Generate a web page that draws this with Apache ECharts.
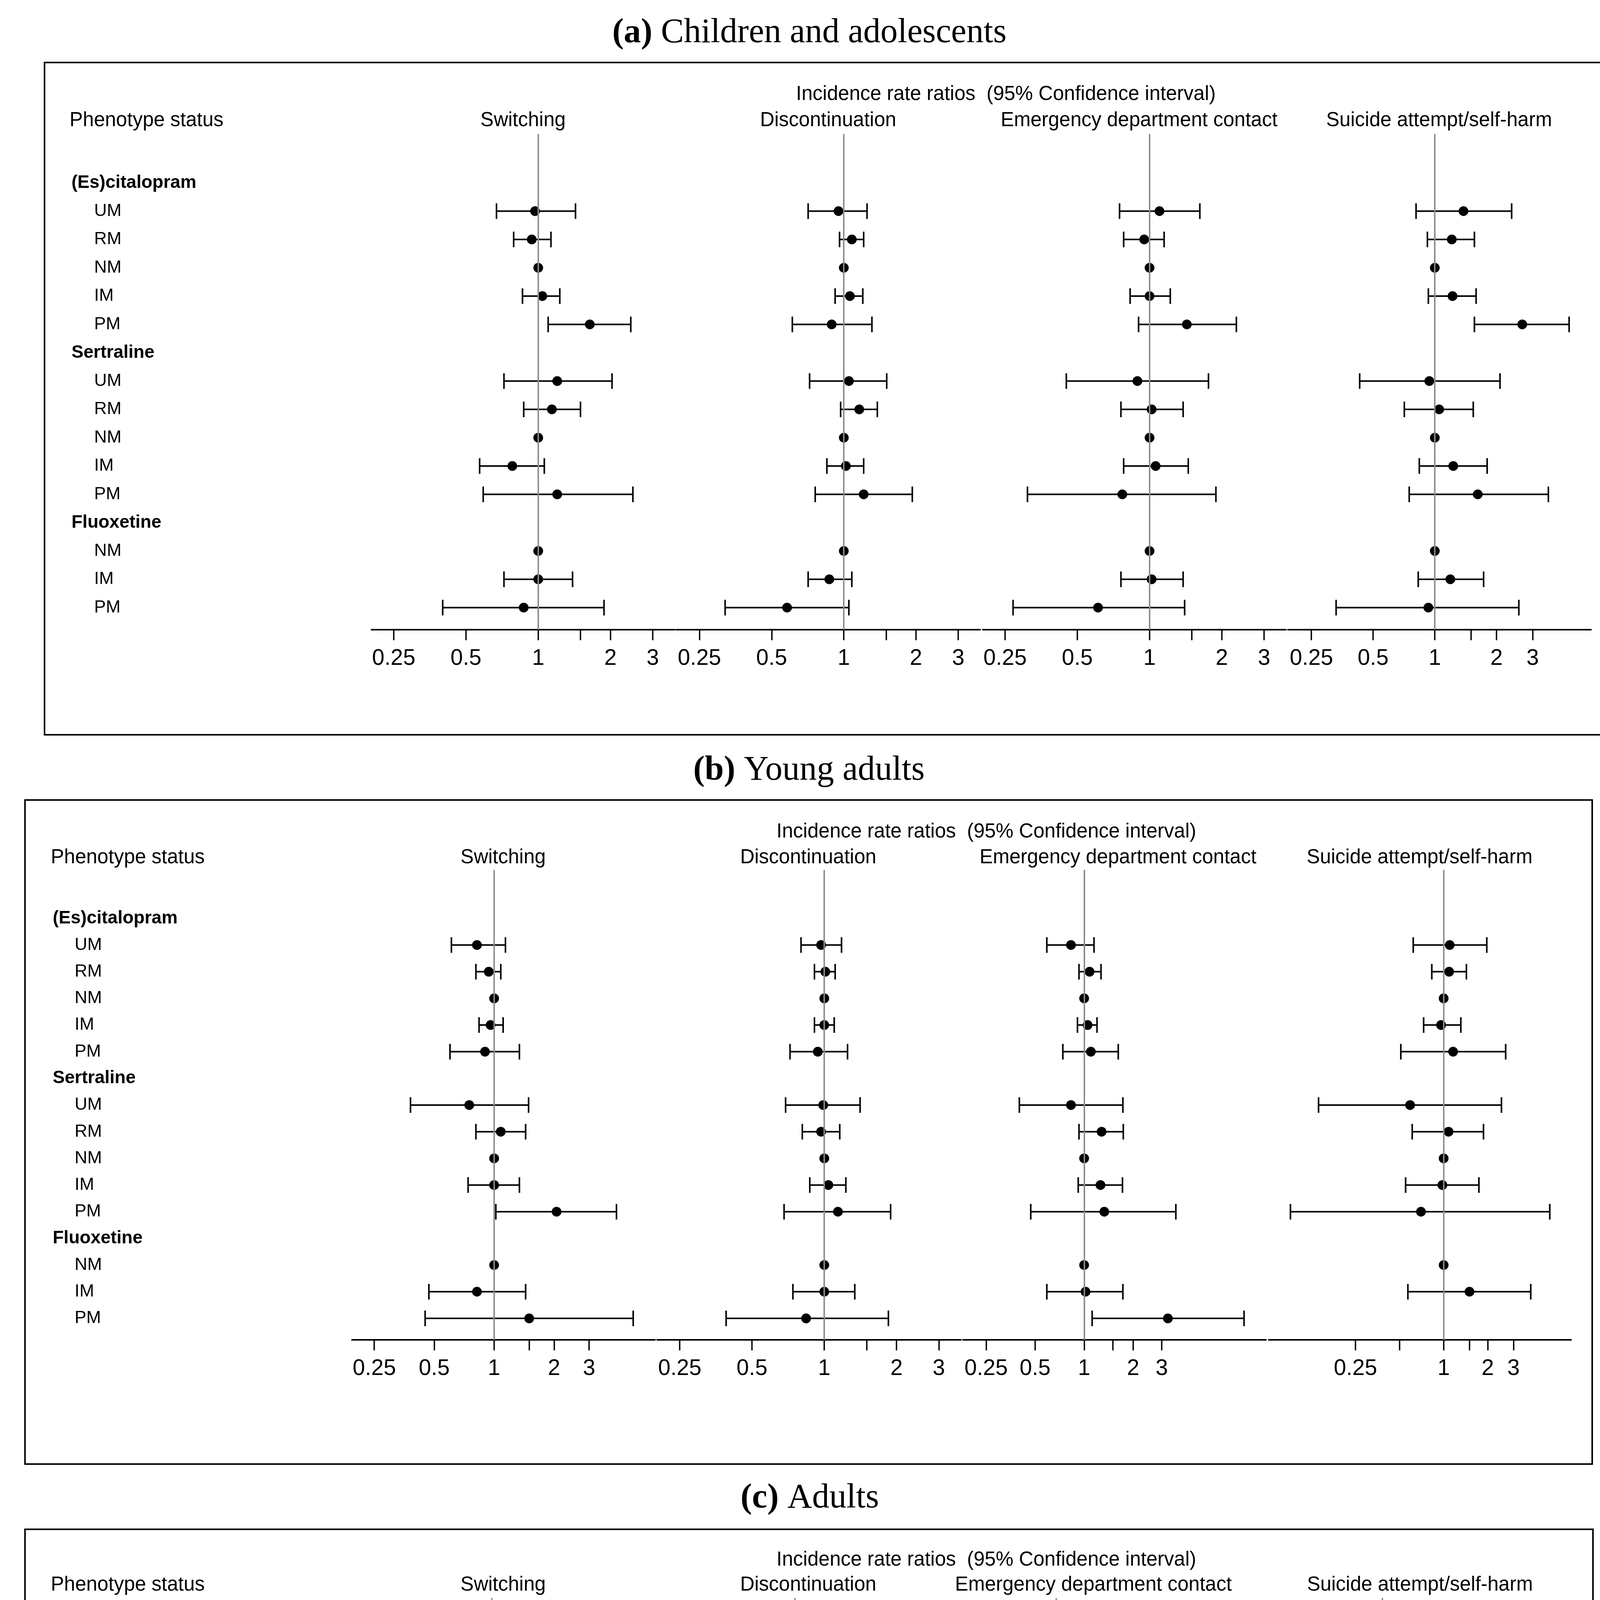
<!DOCTYPE html>
<html><head><meta charset="utf-8">
<script src="https://cdn.jsdelivr.net/npm/echarts@6/dist/echarts.min.js"></script>
<style>html,body{margin:0;padding:0;background:#fff}#chart{width:4205px;height:5676px}</style>
</head><body><div id="chart"></div>
<script>
// ---------- DATA ----------
const rowLabels = ['(Es)citalopram','UM','RM','NM','IM','PM','Sertraline','UM','RM','NM','IM','PM','Fluoxetine','NM','IM','PM'];
const groupRows = [0, 6, 12];
const dataRows = [1, 2, 3, 4, 5, 7, 8, 9, 10, 11, 13, 14, 15];
const outcomes = ['Switching', 'Discontinuation', 'Emergency department contact', 'Suicide attempt/self-harm'];
const panelLetters = ['(a)', '(b)', '(c)'];
const panelNames = ['Children and adolescents', 'Young adults', 'Adults'];
const axisTitle = 'Incidence rate ratios  (95% Confidence interval)';
const rowHeader = 'Phenotype status';

// [IRR, lower 95% CI, upper 95% CI] per phenotype row (null = not shown)
const childSwitching = [[0.97,0.67,1.43],[0.94,0.79,1.13],[1,null,null],[1.04,0.86,1.23],[1.64,1.10,2.43],
  [1.20,0.72,2.03],[1.14,0.87,1.50],[1,null,null],[0.78,0.57,1.06],[1.20,0.59,2.48],
  [1,null,null],[1.00,0.72,1.39],[0.87,0.40,1.88]];
const childDiscontinuation = [[0.95,0.71,1.25],[1.08,0.96,1.21],[1,null,null],[1.06,0.92,1.20],[0.89,0.61,1.31],
  [1.05,0.72,1.51],[1.16,0.97,1.38],[1,null,null],[1.02,0.85,1.21],[1.21,0.76,1.93],
  [1,null,null],[0.87,0.71,1.08],[0.58,0.32,1.05]];
const childEmergency = [[1.10,0.75,1.62],[0.95,0.78,1.15],[1,null,null],[1.00,0.83,1.22],[1.43,0.90,2.30],
  [0.89,0.45,1.76],[1.02,0.76,1.38],[1,null,null],[1.06,0.78,1.45],[0.77,0.31,1.89],
  [1,null,null],[1.02,0.76,1.38],[0.61,0.27,1.40]];
const childSuicide = [[1.38,0.81,2.37],[1.21,0.92,1.56],[1,null,null],[1.22,0.93,1.59],[2.67,1.56,4.52],
  [0.94,0.43,2.08],[1.05,0.71,1.54],[1,null,null],[1.23,0.84,1.80],[1.62,0.75,3.58],
  [1,null,null],[1.19,0.83,1.73],[0.93,0.33,2.57]];

const youngSwitching = [[0.82,0.61,1.14],[0.94,0.81,1.08],[1,null,null],[0.96,0.84,1.11],[0.90,0.60,1.34],
  [0.75,0.38,1.49],[1.08,0.81,1.44],[1,null,null],[1.00,0.74,1.34],[2.06,1.02,4.12],
  [1,null,null],[0.82,0.47,1.44],[1.50,0.45,5.00]];
const youngDiscontinuation = [[0.97,0.80,1.18],[1.01,0.91,1.11],[1,null,null],[1.00,0.91,1.10],[0.94,0.72,1.25],
  [0.99,0.69,1.41],[0.97,0.81,1.16],[1,null,null],[1.04,0.87,1.23],[1.14,0.68,1.89],
  [1,null,null],[1.00,0.74,1.34],[0.84,0.39,1.85]];
const youngEmergency = [[0.83,0.59,1.15],[1.08,0.93,1.27],[1,null,null],[1.05,0.91,1.20],[1.10,0.74,1.62],
  [0.83,0.40,1.73],[1.28,0.93,1.74],[1,null,null],[1.26,0.92,1.72],[1.33,0.47,3.66],
  [1,null,null],[1.02,0.59,1.73],[3.27,1.12,9.60]];
const youngSuicide = [[1.10,0.62,1.97],[1.09,0.83,1.43],[1,null,null],[0.96,0.73,1.31],[1.16,0.51,2.65],
  [0.59,0.14,2.48],[1.08,0.61,1.87],[1,null,null],[0.98,0.55,1.74],[0.70,0.09,5.30],
  [1,null,null],[1.50,0.57,3.93],null];

const adultSwitching = [[1.68,0.95,2.97],[1.24,0.92,1.68],[1,null,null],[1.00,0.71,1.36],[1.07,0.48,2.29],
  [0.60,0.18,1.99],[1.41,0.87,2.37],[1,null,null],[1.17,0.70,1.94],[0.55,0.07,4.10],
  [1,null,null],[0.78,0.12,5.12],[2.04,0.17,24.9]];
const adultDiscontinuation = [[1.28,0.84,1.96],[1.08,0.88,1.30],[1,null,null],[0.93,0.77,1.15],[0.97,0.58,1.61],
  [0.89,0.49,1.59],[1.30,0.97,1.77],[1,null,null],[0.92,0.70,1.27],[0.45,0.11,1.87],
  [1,null,null],[0.72,0.25,2.12],[2.57,0.41,16.1]];
const adultEmergency = [[1.39,0.70,2.87],[1.10,0.78,1.53],[1,null,null],[1.05,0.73,1.46],[1.15,0.46,2.78],
  [0.62,0.22,1.88],[0.72,0.37,1.39],[1,null,null],[0.84,0.46,1.60],[1.21,0.16,9.20],
  [1,null,null],[1.00,0.12,7.80],[10.3,0.36,285]];
const adultSuicide = [[3.25,0.89,11.8],[1.16,0.49,2.71],[1,null,null],[0.68,0.24,1.98],[2.89,0.58,14.3],
  null,null,[1,null,null],null,null,
  [1,null,null],null,null];

// axis ticks / labels / ranges (log scale)
const tickValues = [0.25, 0.5, 1, 1.5, 2, 3];
const childTickLabels = [[0.25,0.5,1,2,3],[0.25,0.5,1,2,3],[0.25,0.5,1,2,3],[0.25,0.5,1,2,3]];
const youngTickLabels = [[0.25,0.5,1,2,3],[0.25,0.5,1,2,3],[0.25,0.5,1,2,3],[0.25,1,2,3]];
const adultTickLabels = [[0.25,1,3],[0.25,1.5,3],[0.25,1,3],[0.25,1,2,3]];
const childRanges = [[0.202,3.70],[0.200,3.70],[0.202,3.70],[0.192,5.78]];
const youngRanges = [[0.193,6.44],[0.201,3.71],[0.180,13.1],[0.064,7.41]];
const adultRanges = [[0.042,40.5],[0.071,24.3],[0.061,549],[0.166,19.9]];

// ---------- LAYOUT ----------
const panels = [
  {data:[childSwitching,childDiscontinuation,childEmergency,childSuicide], labels:childTickLabels, ranges:childRanges,
   box:[114,160,4127,1881], titleX:2072, titleY:85, incidX:2575, incidY:242, headY:309, psX:178,
   headX:[1339,2120,2916,3684], groupX:183, itemX:241, top:343, axisY:1612, row0:468, rowStep:72.5,
   gridX:[[951,1727],[1731,2509],[2516,3292],[3297,4073]]},
  {data:[youngSwitching,youngDiscontinuation,youngEmergency,youngSuicide], labels:youngTickLabels, ranges:youngRanges,
   box:[64,2048,4076,3748], titleX:2071, titleY:1973, incidX:2525, incidY:2130, headY:2196, psX:130,
   headX:[1288,2069,2862,3634], groupX:135, itemX:191, top:2227, axisY:3430, row0:2351, rowStep:68.27,
   gridX:[[901,1677],[1682,2460],[2465,3241],[3248,4022]]},
  {data:[adultSwitching,adultDiscontinuation,adultEmergency,adultSuicide], labels:adultTickLabels, ranges:adultRanges,
   box:[64,3915,4078,5582], titleX:2073, titleY:3836, incidX:2525, incidY:3994, headY:4058, psX:130,
   headX:[1288,2069,2799,3635], groupX:135, itemX:191, top:4091, axisY:5321, row0:4214, rowStep:70.2,
   gridX:[[901,1677],[1682,2460],[2465,3241],[3248,4022]]}
];

const SANS = '"Liberation Sans", Arial, sans-serif';
const SERIF = '"Liberation Serif", "Times New Roman", serif';

function renderErrorBar(params, api) {
  const lo = api.coord([api.value(0), api.value(2)]);
  const hi = api.coord([api.value(1), api.value(2)]);
  const h = 20;
  const style = {stroke: '#000', lineWidth: 4};
  return {type: 'group', children: [
    {type: 'line', shape: {x1: lo[0], y1: lo[1], x2: hi[0], y2: hi[1]}, style: style},
    {type: 'line', shape: {x1: lo[0], y1: lo[1] - h, x2: lo[0], y2: lo[1] + h}, style: style},
    {type: 'line', shape: {x1: hi[0], y1: hi[1] - h, x2: hi[0], y2: hi[1] + h}, style: style}
  ]};
}

const grids = [], xAxes = [], yAxes = [], series = [], graphics = [];

panels.forEach(function (P, pi) {
  const m0 = -(P.row0 - P.top) / P.rowStep;
  const m1 = m0 + (P.axisY - P.top) / P.rowStep;
  graphics.push({type: 'rect', shape: {x: P.box[0], y: P.box[1], width: P.box[2] - P.box[0], height: P.box[3] - P.box[1]},
    style: {fill: 'none', stroke: '#000', lineWidth: 4}, silent: true});
  graphics.push({type: 'text', x: P.titleX, y: P.titleY, silent: true,
    style: {text: '{b|' + panelLetters[pi] + '}{n| ' + panelNames[pi] + '}', textAlign: 'center', textVerticalAlign: 'middle',
      rich: {b: {fontFamily: SERIF, fontSize: 88, fontWeight: 'bold', fill: '#000'}, n: {fontFamily: SERIF, fontSize: 88, fill: '#000'}}}});
  graphics.push({type: 'text', x: P.incidX, y: P.incidY, silent: true,
    style: {text: axisTitle, font: '51px ' + SANS, fill: '#000', textAlign: 'center', textVerticalAlign: 'middle'}});
  graphics.push({type: 'text', x: P.psX, y: P.headY, silent: true,
    style: {text: rowHeader, font: '51px ' + SANS, fill: '#000', textAlign: 'left', textVerticalAlign: 'middle'}});
  outcomes.forEach(function (name, oi) {
    graphics.push({type: 'text', x: P.headX[oi], y: P.headY, silent: true,
      style: {text: name, font: '51px ' + SANS, fill: '#000', textAlign: 'center', textVerticalAlign: 'middle'}});
  });

  P.data.forEach(function (rows, oi) {
    const gi = grids.length;
    const gx = P.gridX[oi];
    grids.push({left: gx[0], top: P.top, width: gx[1] - gx[0], height: P.axisY - P.top});
    xAxes.push({type: 'log', logBase: 2, gridIndex: gi, min: P.ranges[oi][0], max: P.ranges[oi][1],
      axisLine: {show: true, onZero: false, lineStyle: {color: '#000', width: 4}},
      axisTick: {show: true, customValues: tickValues, length: 27, lineStyle: {color: '#000', width: 3.5}},
      axisLabel: {show: true, customValues: P.labels[oi], formatter: function (v) { return String(v); },
        fontSize: 57, fontFamily: SANS, color: '#000', margin: 46},
      splitLine: {show: false}, minorTick: {show: false}});
    const yi = yAxes.length;
    yAxes.push({type: 'value', gridIndex: gi, position: 'left', inverse: true, min: m0, max: m1,
      axisLine: {show: false, onZero: false}, axisTick: {show: false}, splitLine: {show: false},
      axisLabel: oi === 0 ? {show: true, customValues: dataRows, align: 'left', margin: gx[0] - P.itemX,
        formatter: function (v) { return rowLabels[Math.round(v)]; }, fontSize: 45, fontFamily: SANS, color: '#000'} : {show: false}});
    if (oi === 0) {
      yAxes.push({type: 'value', gridIndex: gi, position: 'left', offset: 0, inverse: true, min: m0, max: m1,
        axisLine: {show: false, onZero: false}, axisTick: {show: false}, splitLine: {show: false},
        axisLabel: {show: true, customValues: groupRows, align: 'left', margin: gx[0] - P.groupX,
          formatter: function (v) { return rowLabels[Math.round(v)]; }, fontSize: 46, fontWeight: 'bold', fontFamily: SANS, color: '#000'}});
    }
    const bars = [], pts = [];
    rows.forEach(function (r, k) {
      if (!r) return;
      pts.push([r[0], dataRows[k]]);
      if (r[1] != null && r[2] != null) bars.push([r[1], r[2], dataRows[k]]);
    });
    series.push({type: 'custom', xAxisIndex: gi, yAxisIndex: yi, renderItem: renderErrorBar, data: bars,
      encode: {x: [0, 1], y: 2}, z: 2, silent: true,
      markLine: {silent: true, symbol: ['none', 'none'], label: {show: false},
        lineStyle: {color: '#8c8c8c', width: 3.8, type: 'solid', opacity: 1}, data: [{xAxis: 1}]}});
    series.push({type: 'scatter', xAxisIndex: gi, yAxisIndex: yi, data: pts, symbol: 'circle', symbolSize: 25,
      itemStyle: {color: '#000', opacity: 1}, z: 3, silent: true});
  });
});

const chart = echarts.init(document.getElementById('chart'), null, {renderer: 'canvas', width: 4205, height: 5676});
chart.setOption({animation: false, backgroundColor: '#fff', grid: grids, xAxis: xAxes, yAxis: yAxes, series: series, graphic: graphics});
</script></body></html>
